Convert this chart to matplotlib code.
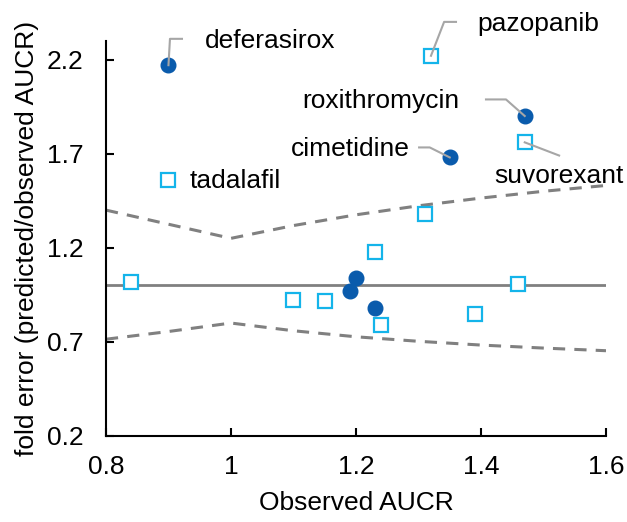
import matplotlib.pyplot as plt

plt.rcParams['font.family'] = ['Liberation Sans', 'DejaVu Sans']

# Data
# filled circles (dark blue)
circ_x = [0.90, 1.47, 1.35, 1.20, 1.19, 1.23]
circ_y = [2.17, 1.90, 1.68, 1.04, 0.97, 0.88]
# open squares (light blue)
sq_x = [1.32, 1.47, 0.90, 1.31, 1.23, 0.84, 1.10, 1.15, 1.24, 1.39, 1.46]
sq_y = [2.22, 1.76, 1.56, 1.38, 1.18, 1.02, 0.92, 0.915, 0.79, 0.85, 1.01]

# dashed limit lines
lim_x = [0.8, 0.9, 1.0, 1.1, 1.2, 1.3, 1.4, 1.5, 1.6]
lim_up = [1.40, 1.325, 1.25, 1.318, 1.375, 1.423, 1.464, 1.50, 1.531]
lim_lo = [0.714, 0.755, 0.80, 0.759, 0.727, 0.703, 0.683, 0.667, 0.653]

# labels: name, text position, alignment, leader polyline
labels = [
    ('deferasirox', 0.958, 2.30, 'left', [(0.90, 2.17), (0.9024, 2.31), (0.9216, 2.31)]),
    ('pazopanib', 1.394, 2.39, 'left', [(1.32, 2.22), (1.341, 2.40), (1.36, 2.40)]),
    ('roxithromycin', 1.366, 1.98, 'right', [(1.408, 1.988), (1.44, 1.988), (1.47, 1.90)]),
    ('cimetidine', 1.286, 1.723, 'right', [(1.301, 1.733), (1.318, 1.733), (1.35, 1.68)]),
    ('suvorexant', 1.422, 1.579, 'left', [(1.47, 1.76), (1.525, 1.69)]),
    ('tadalafil', 0.934, 1.553, 'left', None),
]

fs = 19

fig = plt.figure(figsize=(6.27, 5.22), dpi=100)
ax = fig.add_axes([0.169, 0.1648, 0.7975, 0.7572])

gray = '#808080'
ax.plot([0.8, 1.6], [1, 1], color=gray, lw=2, zorder=1)
ax.plot(lim_x, lim_up, color=gray, lw=2.2, ls=(0, (4, 3)), zorder=1)
ax.plot(lim_x, lim_lo, color=gray, lw=2.2, ls=(0, (4, 3)), zorder=1)

ax.plot(sq_x, sq_y, 's', ms=9.5, mfc='white', mec='#14B4EA', mew=1.6,
        ls='none', zorder=3)
ax.plot(circ_x, circ_y, 'o', ms=10.5, color='#0A5BAC', ls='none', zorder=3)

# labels with leader lines drawn on top of the markers
for name, tx, ty, ha, leader in labels:
    ax.text(tx, ty, name, ha=ha, va='center', fontsize=fs, clip_on=False)
    if leader:
        lx, ly = zip(*leader)
        ax.plot(lx, ly, color='#A6A6A6', lw=1.5, clip_on=False, zorder=4)

ax.set_xlim(0.8, 1.6)
ax.set_ylim(0.2, 2.3)
ax.set_xticks([0.8, 1.0, 1.2, 1.4, 1.6])
ax.set_xticklabels(['0.8', '1', '1.2', '1.4', '1.6'])
ax.set_yticks([0.2, 0.7, 1.2, 1.7, 2.2])
ax.tick_params(direction='in', length=6, width=1.5, labelsize=fs)
ax.tick_params(axis='y', pad=16)
ax.tick_params(axis='x', pad=14)
for s in ['top', 'right']:
    ax.spines[s].set_visible(False)
for s in ['left', 'bottom']:
    ax.spines[s].set_linewidth(1.5)

ax.set_xlabel('Observed AUCR', fontsize=fs, labelpad=8)
ax.set_ylabel('fold error (predicted/observed AUCR)', fontsize=fs, labelpad=6)

fig.savefig('out.png', dpi=100)
